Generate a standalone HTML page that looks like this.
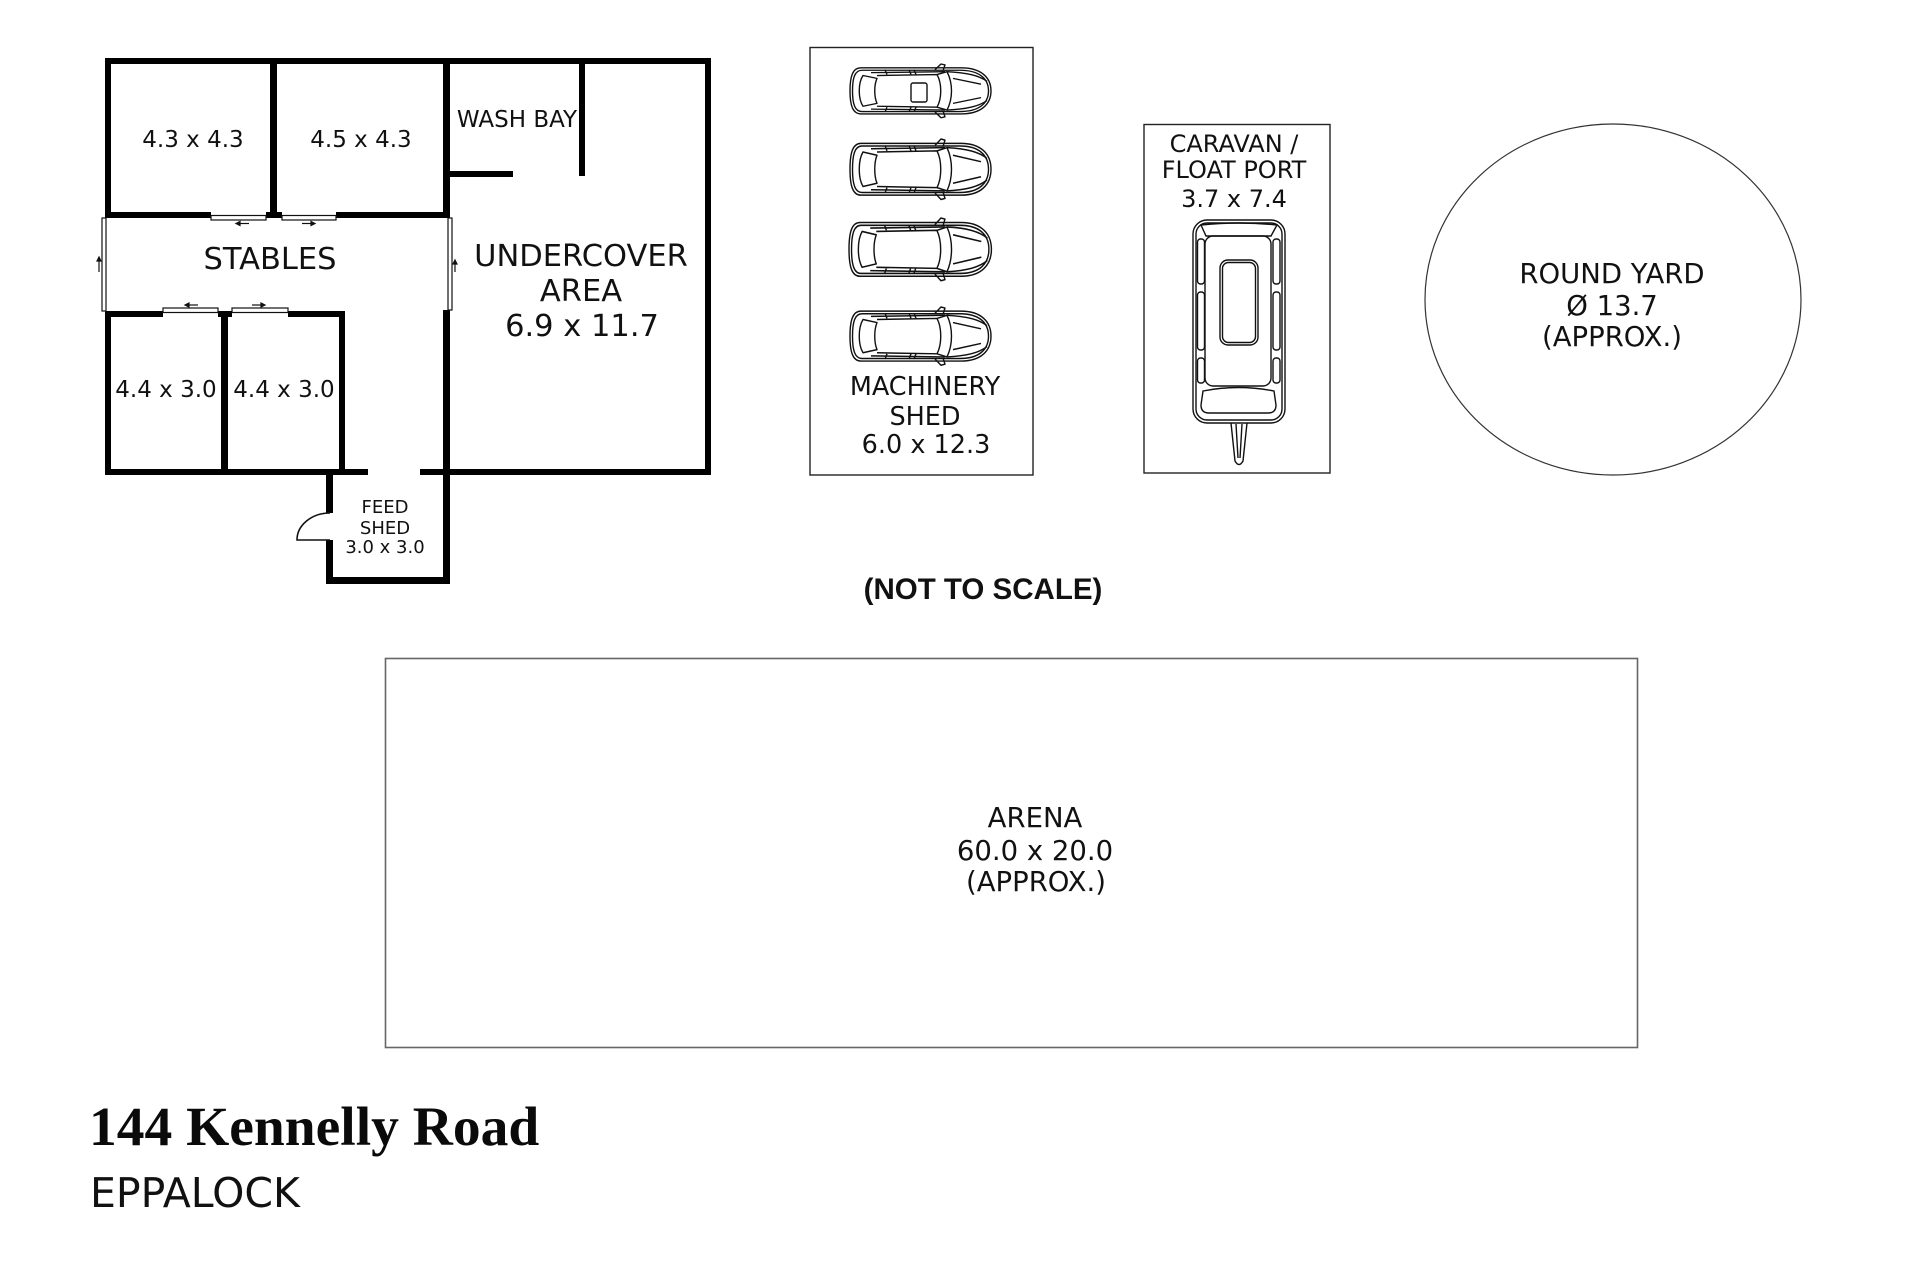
<!DOCTYPE html>
<html>
<head>
<meta charset="utf-8">
<style>
html,body{margin:0;padding:0;background:#fff;}
body{width:1920px;height:1280px;overflow:hidden;}
svg{display:block;}
.lbl{font-family:"DejaVu Sans","Liberation Sans",sans-serif;fill:#111;text-anchor:middle;}
</style>
</head>
<body>
<svg width="1920" height="1280" viewBox="0 0 1920 1280" xmlns="http://www.w3.org/2000/svg">
<rect x="0" y="0" width="1920" height="1280" fill="#fff"/>
<defs>
  <g id="car" fill="none" stroke="#111" stroke-width="1.4" stroke-linejoin="round">
    <path d="M12,4 L112,4 C132,4 142,14 142,28 C142,42 132,52 112,52 L12,52 C4,52 1,44 1,28 C1,12 4,4 12,4 Z"/>
    <path d="M13,6.5 L111,6.5 C130,6.5 139.5,15 139.5,28 C139.5,41 130,49.5 111,49.5 L13,49.5 C6,49.5 3.5,42 3.5,28 C3.5,14 6,6.5 13,6.5 Z"/>
    <path d="M14,12 C9,20 9,36 14,44 L28,41 C25,34 25,22 28,15 Z"/>
    <path d="M28,12 L88,11 C93,20 93,36 88,45 L28,44"/>
    <path d="M88,11 L98,8 C104,20 104,36 98,48 L88,45"/>
    <path d="M22,9 L96,8 M22,47 L96,48"/>
    <path d="M98,8 C118,9 130,12 138,18 M98,48 C118,47 130,44 138,38"/>
    <path d="M104,15 L132,21 M104,41 L132,35"/>
    <path d="M86,6 L92,0 L96,1 L94,7 M86,50 L92,56 L96,55 L94,49"/>
    <path d="M60,6 L62,11 M65,6 L67,11 M60,50 L62,45 M65,50 L67,45 M36,6 L38,11 M36,50 L38,45"/>
  </g>
</defs>

<!-- ============ STABLES BUILDING ============ -->
<g fill="#000">
  <rect x="105" y="58" width="606" height="6"/>
  <rect x="705" y="58" width="6" height="417"/>
  <rect x="105" y="58" width="6" height="160"/>
  <rect x="105" y="311" width="6" height="164"/>
  <rect x="105" y="469" width="263" height="6"/>
  <rect x="420" y="469" width="291" height="6"/>
  <rect x="270" y="58" width="7" height="160"/>
  <rect x="443" y="58" width="7" height="160"/>
  <rect x="443" y="310" width="7" height="274"/>
  <rect x="450" y="171" width="63" height="6"/>
  <rect x="579" y="64" width="6" height="112"/>
  <rect x="105" y="212" width="106" height="6"/>
  <rect x="266" y="212" width="16" height="6"/>
  <rect x="336" y="212" width="114" height="6"/>
  <rect x="105" y="311" width="58" height="6"/>
  <rect x="218" y="311" width="14" height="6"/>
  <rect x="288" y="311" width="57" height="6"/>
  <rect x="221" y="311" width="7" height="164"/>
  <rect x="339" y="311" width="6" height="164"/>
  <rect x="326" y="475" width="7" height="38"/>
  <rect x="326" y="540" width="7" height="44"/>
  <rect x="326" y="577" width="124" height="7"/>
</g>
<g fill="#fff" stroke="#111" stroke-width="1.2">
  <rect x="211" y="215.5" width="55" height="4.5"/>
  <rect x="282" y="215.5" width="54" height="4.5"/>
  <rect x="163" y="308" width="55" height="4.5"/>
  <rect x="232" y="308" width="56" height="4.5"/>
  <rect x="102" y="218" width="4" height="93"/>
  <rect x="448" y="218" width="4" height="92"/>
</g>
<g stroke="#111" stroke-width="1.2" fill="#111">
  <line x1="237" y1="223.5" x2="249" y2="223.5"/><path d="M236,223.5 L240,221.5 L240,225.5 Z"/>
  <line x1="302" y1="223.5" x2="314" y2="223.5"/><path d="M315,223.5 L311,221.5 L311,225.5 Z"/>
  <line x1="186" y1="305" x2="198" y2="305"/><path d="M185,305 L189,303 L189,307 Z"/>
  <line x1="252" y1="305" x2="264" y2="305"/><path d="M265,305 L261,303 L261,307 Z"/>
  <line x1="99" y1="259" x2="99" y2="272"/><path d="M99,257 L97,261 L101,261 Z"/>
  <line x1="455" y1="262" x2="455" y2="272"/><path d="M455,260 L453,264 L457,264 Z"/>
</g>
<path d="M330,513 A33,27 0 0 0 297,540 L330,540" fill="none" stroke="#111" stroke-width="1.6"/>

<text class="lbl" x="193" y="147" font-size="23">4.3 x 4.3</text>
<text class="lbl" x="361" y="147" font-size="23">4.5 x 4.3</text>
<text class="lbl" x="517" y="127" font-size="23">WASH BAY</text>
<text class="lbl" x="270" y="269" font-size="30.5">STABLES</text>
<text class="lbl" x="581" y="266" font-size="30.5">UNDERCOVER</text>
<text class="lbl" x="581" y="301" font-size="30.5">AREA</text>
<text class="lbl" x="582" y="336" font-size="30.5">6.9 x 11.7</text>
<text class="lbl" x="166" y="397" font-size="23">4.4 x 3.0</text>
<text class="lbl" x="284" y="397" font-size="23">4.4 x 3.0</text>
<text class="lbl" x="385" y="513" font-size="18">FEED</text>
<text class="lbl" x="385" y="534" font-size="18">SHED</text>
<text class="lbl" x="385" y="553" font-size="18">3.0 x 3.0</text>

<!-- ============ MACHINERY SHED ============ -->
<rect x="810" y="47.5" width="223" height="427.5" fill="none" stroke="#222" stroke-width="1.4"/>
<use href="#car" transform="translate(849,64) scale(1,0.96)"/>
<rect x="911" y="83" width="16" height="19" rx="2" fill="none" stroke="#111" stroke-width="1.4"/>
<use href="#car" transform="translate(849,139) scale(1,1.08)"/>
<use href="#car" transform="translate(848,218) scale(1.01,1.12)"/>
<use href="#car" transform="translate(849,307) scale(1,1.04)"/>
<text class="lbl" x="925" y="395" font-size="25.5">MACHINERY</text>
<text class="lbl" x="925" y="425" font-size="25.5">SHED</text>
<text class="lbl" x="926" y="453" font-size="25.5">6.0 x 12.3</text>

<!-- ============ CARAVAN / FLOAT PORT ============ -->
<rect x="1144" y="124.5" width="186" height="348.5" fill="none" stroke="#222" stroke-width="1.4"/>
<text class="lbl" x="1234" y="152" font-size="24">CARAVAN /</text>
<text class="lbl" x="1234" y="178" font-size="24">FLOAT PORT</text>
<text class="lbl" x="1234" y="207" font-size="24">3.7 x 7.4</text>
<g fill="none" stroke="#111" stroke-width="1.4">
  <rect x="1193" y="220" width="92" height="203" rx="14"/>
  <rect x="1196" y="223" width="86" height="197" rx="11"/>
  <path d="M1201,225 Q1239,221 1277,225 L1271,236 L1206,236 Z"/>
  <rect x="1205" y="236" width="66" height="150" rx="8"/>
  <rect x="1197.5" y="239" width="7" height="45" rx="3"/>
  <rect x="1197.5" y="292" width="7" height="58" rx="3"/>
  <rect x="1197.5" y="358" width="7" height="25" rx="3"/>
  <rect x="1273" y="239" width="7" height="45" rx="3"/>
  <rect x="1273" y="292" width="7" height="58" rx="3"/>
  <rect x="1273" y="358" width="7" height="25" rx="3"/>
  <rect x="1220" y="260" width="38" height="85" rx="8"/>
  <rect x="1222.5" y="262.5" width="33" height="80" rx="6"/>
  <path d="M1203,391 Q1238,384 1274,391 L1276,405 Q1276,413 1268,413 L1209,413 Q1201,413 1201,405 Z"/>
  <path d="M1231,423 L1235,461 Q1239,468 1243,461 L1247,423"/>
  <path d="M1236,424 L1238,458 M1242,424 L1240,458"/>
</g>

<!-- ============ ROUND YARD ============ -->
<ellipse cx="1613" cy="299.5" rx="188" ry="175.5" fill="none" stroke="#333" stroke-width="1.2"/>
<text class="lbl" x="1612" y="283" font-size="27.5">ROUND YARD</text>
<text class="lbl" x="1612" y="315" font-size="27.5">Ø 13.7</text>
<text class="lbl" x="1612" y="346" font-size="27.5">(APPROX.)</text>

<!-- ============ NOT TO SCALE ============ -->
<text x="983" y="599" font-family="'Liberation Sans',sans-serif" font-weight="bold" font-size="29.5" text-anchor="middle" fill="#111">(NOT TO SCALE)</text>

<!-- ============ ARENA ============ -->
<rect x="385.5" y="658.5" width="1252" height="389" fill="none" stroke="#666" stroke-width="1.6"/>
<text class="lbl" x="1035" y="827" font-size="27.5">ARENA</text>
<text class="lbl" x="1035" y="860" font-size="27.5">60.0 x 20.0</text>
<text class="lbl" x="1036" y="891" font-size="27.5">(APPROX.)</text>

<!-- ============ TITLE ============ -->
<text x="89" y="1145" font-family="'Liberation Serif',serif" font-weight="bold" font-size="55.5" fill="#0a0a0a">144 Kennelly Road</text>
<text x="90" y="1207" font-family="'DejaVu Sans','Liberation Sans',sans-serif" font-size="41" fill="#111">EPPALOCK</text>
</svg>
</body>
</html>
